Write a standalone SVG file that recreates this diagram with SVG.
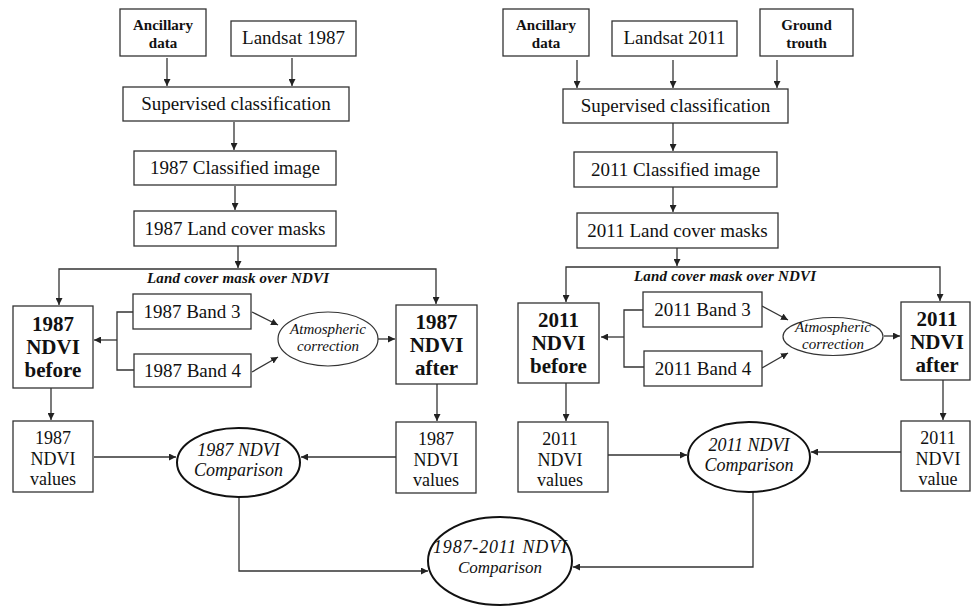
<svg xmlns="http://www.w3.org/2000/svg" width="971" height="608" viewBox="0 0 971 608">
<defs>
<marker id="ah" viewBox="0 0 10 10" refX="10" refY="5" markerWidth="7" markerHeight="7" markerUnits="userSpaceOnUse" orient="auto">
<path d="M0,0 L10,5 L0,10 Z" fill="#222"/>
</marker>
<style>
rect{fill:#fff;stroke:#333;stroke-width:1.3}
ellipse{fill:#fff;stroke:#333;stroke-width:1.2}
ellipse.thick{stroke:#111;stroke-width:2}
text{font-family:"Liberation Serif","Times New Roman",serif;fill:#111;text-anchor:middle}
.b15{font-size:15px;font-weight:bold}
.r19{font-size:19px}
.r18{font-size:18px}
.b21{font-size:21px;font-weight:bold}
.i15{font-size:15px;font-style:italic}
.ib15{font-size:15px;font-style:italic;font-weight:bold}
.i18{font-size:18px;font-style:italic}
.i17{font-size:17px;font-style:italic}
.con path{fill:none;stroke:#333;stroke-width:1.3}
.con path.a{marker-end:url(#ah)}
</style>
</defs>
<rect x="0" y="0" width="971" height="608" style="fill:#fff;stroke:none"/>

<g class="con">
<!-- left -->
<path class="a" d="M167,58 V86"/>
<path class="a" d="M292,58 V86"/>
<path class="a" d="M234,122 V150"/>
<path class="a" d="M235,186 V210"/>
<path class="a" d="M238,246 V268"/>
<path class="a" d="M238,269 H59 V305"/>
<path class="a" d="M238,269 H436 V304"/>
<path d="M133,312 H117 V370 H134"/>
<path class="a" d="M117,340 H94"/>
<path class="a" d="M252,312 L278,325"/>
<path class="a" d="M252,372 L278,357"/>
<path class="a" d="M378,339 H395"/>
<path class="a" d="M51,388 V420"/>
<path class="a" d="M437,384 V421"/>
<path class="a" d="M94,457 H176"/>
<path class="a" d="M396,457 H301"/>
<path class="a" d="M239,497 V571 H428"/>
<!-- right -->
<path class="a" d="M577,60 V88"/>
<path class="a" d="M673,60 V88"/>
<path class="a" d="M777,60 V88"/>
<path class="a" d="M673,123 V151"/>
<path class="a" d="M673,187 V212"/>
<path class="a" d="M677,248 V266"/>
<path class="a" d="M677,267 H566 V302"/>
<path class="a" d="M677,267 H940 V301"/>
<path d="M643,310 H624 V367 H644"/>
<path class="a" d="M624,337 H601"/>
<path class="a" d="M762,306 L788,320"/>
<path class="a" d="M762,368 L788,353"/>
<path class="a" d="M884,336 H900"/>
<path class="a" d="M566,383 V421"/>
<path class="a" d="M943,380 V420"/>
<path class="a" d="M608,455 H687"/>
<path class="a" d="M901,452 H811"/>
<path class="a" d="M753,492 V567 H573"/>
</g>

<text class="ib15" x="238" y="283" textLength="182" lengthAdjust="spacing">Land cover mask over NDVI</text>
<text class="ib15" x="725" y="281" textLength="182" lengthAdjust="spacing">Land cover mask over NDVI</text>

<!-- LEFT nodes -->
<g id="anc1"><rect x="120" y="9" width="86" height="47"/><text class="b15" x="163" y="30">Ancillary</text><text class="b15" x="163" y="48">data</text></g>
<g id="land1"><rect x="231" y="21" width="125" height="35"/><text class="r19" x="293.5" y="44">Landsat 1987</text></g>
<g id="sup1"><rect x="123" y="87" width="226" height="34"/><text class="r19" x="236" y="110">Supervised classification</text></g>
<g id="cls1"><rect x="134" y="151" width="202" height="34"/><text class="r19" x="235" y="174">1987 Classified image</text></g>
<g id="mask1"><rect x="134" y="211" width="202" height="35"/><text class="r19" x="235" y="235">1987 Land cover masks</text></g>
<g id="ndvib1"><rect x="13" y="306" width="80" height="82"/><text class="b21" x="53" y="331">1987</text><text class="b21" x="53" y="354">NDVI</text><text class="b21" x="53" y="377">before</text></g>
<g id="band3_1"><rect x="133" y="294" width="118" height="35"/><text class="r19" x="192" y="318">1987 Band 3</text></g>
<g id="band4_1"><rect x="134" y="354" width="117" height="33"/><text class="r19" x="192.5" y="377">1987 Band 4</text></g>
<g id="atm1"><ellipse cx="328" cy="339" rx="50" ry="27"/><text class="i15" x="328" y="334">Atmospheric</text><text class="i15" x="328" y="351">correction</text></g>
<g id="ndvia1"><rect x="396" y="305" width="81" height="79"/><text class="b21" x="436.5" y="329">1987</text><text class="b21" x="436.5" y="352">NDVI</text><text class="b21" x="436.5" y="375">after</text></g>
<g id="vals1l"><rect x="13" y="421" width="80" height="71"/><text class="r18" x="53" y="444">1987</text><text class="r18" x="53" y="465">NDVI</text><text class="r18" x="53" y="485">values</text></g>
<g id="cmp1"><ellipse class="thick" cx="238.5" cy="462.5" rx="61.5" ry="34.5"/><text class="i18" x="238.5" y="456">1987 NDVI</text><text class="i18" x="238.5" y="476">Comparison</text></g>
<g id="vals1r"><rect x="396" y="422" width="80" height="71"/><text class="r18" x="436" y="445">1987</text><text class="r18" x="436" y="466">NDVI</text><text class="r18" x="436" y="486">values</text></g>

<!-- RIGHT nodes -->
<g id="anc2"><rect x="503" y="9" width="86" height="47"/><text class="b15" x="546" y="30">Ancillary</text><text class="b15" x="546" y="48">data</text></g>
<g id="land2"><rect x="612" y="21" width="125" height="35"/><text class="r19" x="674.5" y="44">Landsat 2011</text></g>
<g id="ground"><rect x="760" y="9" width="93" height="47"/><text class="b15" x="806.5" y="30">Ground</text><text class="b15" x="806.5" y="48">trouth</text></g>
<g id="sup2"><rect x="563" y="89" width="225" height="34"/><text class="r19" x="675.5" y="112">Supervised classification</text></g>
<g id="cls2"><rect x="574" y="152" width="203" height="35"/><text class="r19" x="675.5" y="176">2011 Classified image</text></g>
<g id="mask2"><rect x="577" y="213" width="201" height="35"/><text class="r19" x="677.5" y="237">2011 Land cover masks</text></g>
<g id="ndvib2"><rect x="518" y="303" width="81" height="80"/><text class="b21" x="558.5" y="327">2011</text><text class="b21" x="558.5" y="350">NDVI</text><text class="b21" x="558.5" y="373">before</text></g>
<g id="band3_2"><rect x="643" y="292" width="119" height="35"/><text class="r19" x="702.5" y="316">2011 Band 3</text></g>
<g id="band4_2"><rect x="644" y="351" width="118" height="35"/><text class="r19" x="703" y="375">2011 Band 4</text></g>
<g id="atm2"><ellipse cx="833" cy="336.5" rx="50" ry="19"/><text class="i15" x="833" y="332">Atmospheric</text><text class="i15" x="833" y="349">correction</text></g>
<g id="ndvia2"><rect x="901" y="302" width="69" height="78"/><text class="b21" x="937" y="326">2011</text><text class="b21" x="937" y="349">NDVI</text><text class="b21" x="937" y="372">after</text></g>
<g id="vals2l"><rect x="518" y="422" width="90" height="70"/><text class="r18" x="560" y="445">2011</text><text class="r18" x="560" y="466">NDVI</text><text class="r18" x="560" y="486">values</text></g>
<g id="cmp2"><ellipse class="thick" cx="749" cy="457" rx="61" ry="35"/><text class="i18" x="749" y="451">2011 NDVI</text><text class="i18" x="749" y="471">Comparison</text></g>
<g id="vals2r"><rect x="901" y="421" width="69" height="70"/><text class="r18" x="938" y="444">2011</text><text class="r18" x="938" y="465">NDVI</text><text class="r18" x="938" y="485">value</text></g>

<g id="final"><ellipse class="thick" cx="500" cy="561" rx="72" ry="44"/><text class="i18" x="500" y="553" textLength="134" lengthAdjust="spacing">1987-2011 NDVI</text><text class="i17" x="500" y="573">Comparison</text></g>
</svg>
